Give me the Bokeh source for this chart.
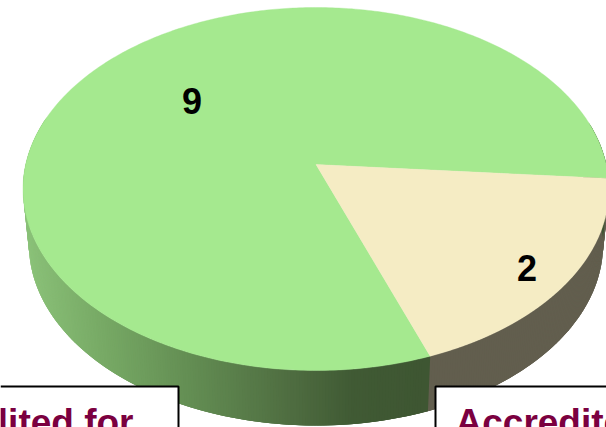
import numpy as np
from bokeh.embed import file_html
from bokeh.resources import INLINE
from bokeh.models import Range1d
from bokeh.plotting import figure
from bokeh.core.properties import value

values = [9, 2]
labels = ["9", "2"]
top_colors = ["#a5e98f", "#f5ecc4"]
box_texts = ["lited for", "Accredite"]

W, H = 606, 427
APEX = (315.5, 164)
C, A, D = -0.135, 178.2, 290.3
DEPTH = 55
SHRINK = 0.98   # lower rim is a little narrower than the upper one
START = 4.45    # degrees, clockwise on screen, where the "2" slice begins
STEP = 0.5


def project(deg, r=1.0):
    t = np.radians(deg)
    u, v = r * np.cos(t), r * np.sin(t)
    w = 1 + C * v
    return APEX[0] + D * u / w, APEX[1] + A * v / w


def lower(x, y):
    return APEX[0] + SHRINK * (x - APEX[0]), y + DEPTH


def mix(stops, x):
    xs = [s[0] for s in stops]
    return "#%02x%02x%02x" % tuple(
        int(round(np.interp(x, xs, [s[1][i] for s in stops]))) for i in range(3))


green_side = [(20, (140, 195, 122)), (110, (118, 168, 100)), (200, (98, 140, 82)),
              (300, (78, 108, 64)), (360, (64, 90, 52)), (428, (62, 86, 50))]
cream_side = [(420, (98, 94, 78)), (606, (98, 94, 78))]

p = figure(width=W, height=H, x_range=Range1d(0, W), y_range=Range1d(H, 0),
           output_backend="svg", toolbar_location=None, min_border=0,
           outline_line_color=None, background_fill_color="white",
           styles={"position": "absolute", "left": "0px", "top": "0px"})
p.axis.visible = False
p.grid.visible = False

total = sum(values)
sweep2 = 360 * values[1] / total
sweep9 = 360 * values[0] / total
spans = [(START + sweep2, START + sweep2 + sweep9), (START, START + sweep2)]

# side wall: overlapping strips, so that the shade runs along x without seams
for (a0, a1), stops in [(spans[1], cream_side), (spans[0], green_side)]:
    edges = np.arange(a0, a1 + 0.01, STEP)
    for e0 in edges[::-1]:
        if np.sin(np.radians(e0)) < -0.25:
            continue
        e1 = e0 + 3 * STEP
        x0, y0 = project(e0)
        x1, y1 = project(e1)
        bx0, by0 = lower(x0, y0)
        bx1, by1 = lower(x1, y1)
        col = mix(stops, x0)
        p.patch([x0, x1, bx1, bx0], [y0, y1, by1, by0], fill_color=col, line_color=None)

# top face
for (a0, a1), col in zip(spans, top_colors):
    ang = np.linspace(a0, a1, 400)
    xs, ys = project(ang)
    p.patch([APEX[0], *xs], [APEX[1], *ys], fill_color=col, line_color=col, line_width=0.4)

# value labels, placed at each slice's middle angle
for (a0, a1), lab, r, dx, dy in zip(spans, labels, [0.58, 0.864], [4, -4], [-4, 3]):
    x, y = project((a0 + a1) / 2, r)
    p.text([x], [y], text=[lab], x_offset=dx, y_offset=dy, text_font=value("Liberation Sans"),
           text_font_style="bold", text_font_size="36px", text_align="center",
           text_baseline="middle", text_color="black")

# boxes below the pie
p.patch([0, 178, 178, 0], [386, 386, 427, 427], fill_color="white", line_color=None)
p.patch([435, 606, 606, 435], [386, 386, 427, 427], fill_color="white", line_color=None)
p.line([0, 178, 178], [386, 386, 427], line_color="black", line_width=2)
p.line([606, 435, 435], [386, 386, 427], line_color="black", line_width=2)
p.text([133], [422], text=[box_texts[0]], text_font=value("Liberation Sans"), text_font_style="bold",
       text_font_size="37px", text_align="right", text_baseline="alphabetic", text_color="#7b0040")
p.text([455], [422], text=[box_texts[1]], text_font=value("Liberation Sans"), text_font_style="bold",
       text_font_size="37px", text_align="left", text_baseline="alphabetic", text_color="#7b0040")

open("out.html", "w").write(file_html(p, INLINE))
